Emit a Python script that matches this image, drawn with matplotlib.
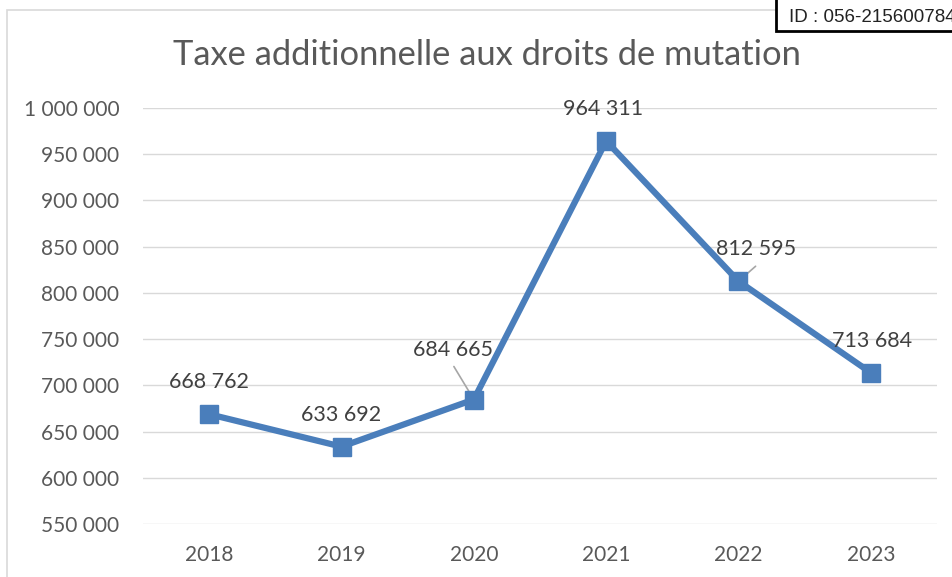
import matplotlib
matplotlib.use('Agg')
import matplotlib.pyplot as plt
from matplotlib.patches import Rectangle

# ── data ─────────────────────────────────────────────────────────────────────
years = ['2018', '2019', '2020', '2021', '2022', '2023']
values = [668762, 633692, 684665, 964311, 812595, 713684]
y_ticks = [550000, 600000, 650000, 700000, 750000, 800000, 850000, 900000, 950000, 1000000]
title = 'Taxe additionnelle aux droits de mutation'
id_text = 'ID : 056-215600784'

# label offsets in pixels (dx, dy) and whether a leader line is drawn
label_offsets = [(0, 32), (0, 32), (-21, 50), (-3, 32), (18, 32), (1, 32)]
leaders = [False, False, True, False, True, False]

def fmt(v):
    return f'{v:,}'.replace(',', ' ')

plt.rcParams['font.family'] = ['Lato', 'DejaVu Sans']
blue = '#4A7EBB'
grey_txt = '#595959'

fig = plt.figure(figsize=(9.52, 5.77), dpi=100)
W, H = 952, 577
ax = fig.add_axes([143 / W, 1 - 524 / H, (937 - 143) / W, (524 - 108) / H])

x = list(range(len(years)))
ax.plot(x, values, color=blue, lw=4.5, marker='s', ms=13, mfc=blue, mec=blue,
        solid_joinstyle='round', zorder=3)

for i, v in enumerate(values):
    dx, dy = label_offsets[i]
    ax.annotate(fmt(v), (i, v), xytext=(dx * 0.72, dy * 0.72), textcoords='offset points',
                ha='center', va='center', fontsize=15.5, color='#404040', zorder=4)
    if leaders[i]:
        ax.annotate('', (i, v), xytext=(dx * 0.72 * 0.95, (dy - 17) * 0.72),
                    textcoords='offset points',
                    arrowprops=dict(arrowstyle='-', color='#A6A6A6', lw=1.2,
                                    shrinkA=0, shrinkB=0), zorder=2)

ax.set_xlim(-0.5, len(years) - 0.5)
ax.set_ylim(550000, 1000000)
ax.set_yticks(y_ticks)
ax.set_yticklabels([fmt(t) for t in y_ticks])
ax.set_xticks(x)
ax.set_xticklabels(years)
ax.tick_params(axis='both', length=0, labelsize=15, colors=grey_txt)
ax.tick_params(axis='y', pad=17)
ax.tick_params(axis='x', pad=15)
ax.grid(axis='y', color='#D9D9D9', lw=1)
ax.set_axisbelow(True)
for s in ax.spines.values():
    s.set_visible(False)

fig.text(487 / W, 1 - 55 / H, title, ha='center', va='center', fontsize=24.8, color=grey_txt)

# chart area border
fig.patches.append(Rectangle((7 / W, -0.1), 1.1, 1 - 10 / H + 0.1, transform=fig.transFigure,
                             fill=False, ec='#D9D9D9', lw=1.2))
# id box
fig.patches.append(Rectangle((776 / W, 1 - 31 / H), 0.3, 0.2, transform=fig.transFigure,
                             fc='white', ec='black', lw=2, zorder=5))
fig.text(789 / W, 1 - 17 / H, id_text, ha='left', va='center', fontsize=13.5,
         family='Liberation Sans', color='#222222', zorder=6)

plt.savefig('out.png', dpi=100)
